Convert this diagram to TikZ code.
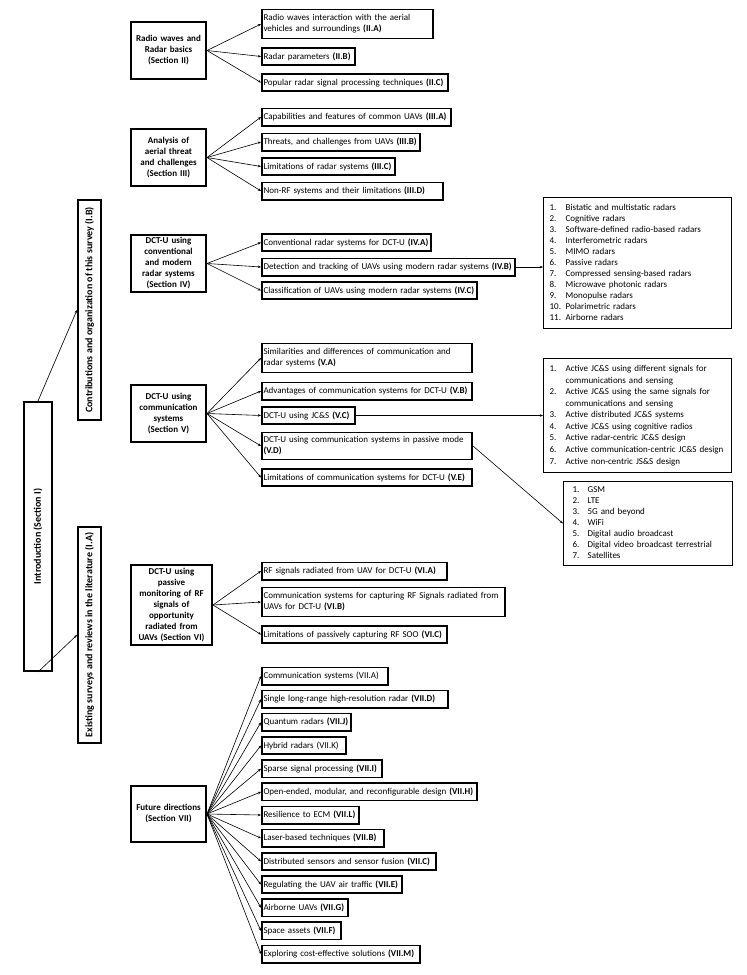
\documentclass[tikz,border=0pt]{standalone}
\usepackage{fontspec}
\setmainfont{Carlito}
\usetikzlibrary{arrows.meta,calc}
\begin{document}
\begin{tikzpicture}[x=1pt,y=-1pt,
  every node/.style={font=\fontsize{9}{11}\selectfont},
  rbox/.style={draw, line width=1.6pt, anchor=west, align=left, inner xsep=1.7pt, inner ysep=1pt, minimum height=17.4pt},
  rb/.style={rbox, /utils/exec={\pgfmathsetmacro\rbw{#1-5}}, text width=\rbw pt},
  rbb/.style={rb=#1, minimum height=29pt},
  secbox/.style={draw, line width=1.6pt, align=center, font=\fontsize{9}{11}\selectfont\bfseries, minimum width=75.4pt, minimum height=57.4pt, text width=72pt, inner sep=1pt},
  sidebox/.style={draw, line width=1.6pt, rotate=90, font=\fontsize{10}{12}\selectfont\bfseries, inner xsep=1pt, minimum height=23.4pt},
  lbox/.style={draw, line width=1.3pt, anchor=north west, align=left},
  conn/.style={line width=0.6pt, -{Stealth[length=3.2pt,width=2.6pt]}},
  ]
\useasboundingbox (0,0) rectangle (747,975);

% left column
\node[sidebox, minimum width=269.4pt, minimum height=28.4pt] (intro) at (38,536.5) {Introduction (Section I)};
\node[sidebox, minimum width=220.4pt] (contrib) at (89.5,310) {Contributions and organization of this survey (I.B)};
\node[sidebox, minimum width=216.4pt] (exist) at (89.5,635) {Existing surveys and reviews in the literature (I.A)};
\draw[conn] (intro.east) -- (contrib.north);
\draw[conn] (intro.west) -- (exist.north);

% section boxes
\node[secbox] (s2) at (168.5,50.5) {Radio waves and\\Radar basics\\(Section II)};
\node[secbox] (s3) at (168.5,157.5) {Analysis of\\aerial threat\\and challenges\\(Section III)};
\node[secbox] (s4) at (168.5,263.5) {DCT-U using\\conventional\\and modern\\radar systems\\(Section IV)};
\node[secbox] (s5) at (168.5,413.5) {DCT-U using\\communication\\systems\\(Section V)};
\node[secbox, minimum width=81.4pt, text width=79pt, minimum height=80.4pt] (s6) at (171.5,605) {DCT-U using\\passive\\monitoring of RF\\signals of\\opportunity\\radiated from\\UAVs (Section VI)};
\node[secbox, minimum height=56.4pt] (s7) at (168.5,814) {Future directions\\(Section VII)};

% Section II
\node[rbb=173] (iia) at (261,24) {Radio waves interaction with the aerial\\vehicles and surroundings \textbf{(II.A)}};
\node[rb=95] (iib) at (261,56.5) {Radar parameters \textbf{(II.B)}};
\node[rb=188] (iic) at (261,82.5) {Popular radar signal processing techniques \textbf{(II.C)}};
% Section III
\node[rb=191] (iiia) at (261,117) {Capabilities and features of common UAVs \textbf{(III.A)}};
\node[rb=160] (iiib) at (261,142) {Threats, and challenges from UAVs \textbf{(III.B)}};
\node[rb=135] (iiic) at (261,166.5) {Limitations of radar systems \textbf{(III.C)}};
\node[rb=183] (iiid) at (261,191) {Non-RF systems and their limitations \textbf{(III.D)}};
% Section IV
\node[rb=171] (iva) at (261,242.5) {Conventional radar systems for DCT-U \textbf{(IV.A)}};
\node[rb=255] (ivb) at (261,267) {Detection and tracking of UAVs using modern radar systems \textbf{(IV.B)}};
\node[rb=217] (ivc) at (261,290.5) {Classification of UAVs using modern radar systems \textbf{(IV.C)}};
% Section V
\node[rbb=212] (va) at (261,358) {Similarities and differences of communication and\\radar systems \textbf{(V.A)}};
\node[rb=212] (vb) at (261,391) {Advantages of communication systems for DCT-U \textbf{(V.B)}};
\node[rb=95] (vc) at (261,415.5) {DCT-U using JC\&S \textbf{(V.C)}};
\node[rbb=212, minimum height=27pt] (vd) at (261,446) {DCT-U using communication systems in passive mode\\\textbf{(V.D)}};
\node[rb=212] (ve) at (261,477.5) {Limitations of communication systems for DCT-U \textbf{(V.E)}};
% Section VI
\node[rb=187] (via) at (261,571) {RF signals radiated from UAV for DCT-U \textbf{(VI.A)}};
\node[rbb=245] (vib) at (261,602) {Communication systems for capturing RF Signals radiated from\\UAVs for DCT-U \textbf{(VI.B)}};
\node[rb=187] (vic) at (261,634.5) {Limitations of passively capturing RF SOO \textbf{(VI.C)}};
% Section VII
\node[rb=128] (viia) at (261,676) {Communication systems (VII.A)};
\node[rb=188] (viid) at (261,699.2) {Single long-range high-resolution radar \textbf{(VII.D)}};
\node[rb=91]  (viij) at (261,722.3) {Quantum radars \textbf{(VII.J)}};
\node[rb=86]  (viik) at (261,745.5) {Hybrid radars (VII.K)};
\node[rb=122] (viii) at (261,768.7) {Sparse signal processing \textbf{(VII.I)}};
\node[rb=217] (viih) at (261,791.9) {Open-ended, modular, and reconfigurable design \textbf{(VII.H)}};
\node[rb=99]  (viil) at (261,815.0) {Resilience to ECM \textbf{(VII.L)}};
\node[rb=124] (viib) at (261,838.2) {Laser-based techniques \textbf{(VII.B)}};
\node[rb=176] (viic) at (261,861.4) {Distributed sensors and sensor fusion \textbf{(VII.C)}};
\node[rb=142] (viie) at (261,884.5) {Regulating the UAV air traffic \textbf{(VII.E)}};
\node[rb=88]  (viig) at (261,907.7) {Airborne UAVs \textbf{(VII.G)}};
\node[rb=81]  (viif) at (261,930.9) {Space assets \textbf{(VII.F)}};
\node[rb=160] (viim) at (261,954.0) {Exploring cost-effective solutions \textbf{(VII.M)}};

% lists
\node[lbox, inner xsep=6pt, text width=175.7pt, minimum height=130.7pt] (l1) at (543,197) {%
\begin{tabular}{@{}p{16pt}@{}l@{}}
1. & Bistatic and multistatic radars\\
2. & Cognitive radars\\
3. & Software-defined radio-based radars\\
4. & Interferometric radars\\
5. & MIMO radars\\
6. & Passive radars\\
7. & Compressed sensing-based radars\\
8. & Microwave photonic radars\\
9. & Monopulse radars\\
10. & Polarimetric radars\\
11. & Airborne radars
\end{tabular}};
\node[lbox, inner xsep=6pt, text width=175.7pt, minimum height=113.7pt] (l2) at (543,358) {%
\renewcommand{\arraystretch}{1.05}%
\begin{tabular}{@{}p{16pt}@{}l@{}}
1. & Active JC\&S using different signals for\\
 & communications and sensing\\
2. & Active JC\&S using the same signals for\\
 & communications and sensing\\
3. & Active distributed JC\&S systems\\
4. & Active JC\&S using cognitive radios\\
5. & Active radar-centric JC\&S design\\
6. & Active communication-centric JC\&S design\\
7. & Active non-centric JS\&S design
\end{tabular}};
\node[lbox, inner xsep=9pt, text width=150.7pt, minimum height=82.7pt] (l3) at (563,481) {%
\begin{tabular}{@{}p{15pt}@{}l@{}}
1. & GSM\\
2. & LTE\\
3. & 5G and beyond\\
4. & WiFi\\
5. & Digital audio broadcast\\
6. & Digital video broadcast terrestrial\\
7. & Satellites
\end{tabular}};

% connectors
\foreach \t in {iia,iib,iic} \draw[conn] (s2.east) -- (\t.west);
\foreach \t in {iiia,iiib,iiic,iiid} \draw[conn] (s3.east) -- (\t.west);
\foreach \t in {iva,ivb,ivc} \draw[conn] (s4.east) -- (\t.west);
\foreach \t in {va,vb,vc,vd,ve} \draw[conn] (s5.east) -- (\t.west);
\foreach \t in {via,vib,vic} \draw[conn] (s6.east) -- (\t.west);
\foreach \t in {viia,viid,viij,viik,viii,viih,viil,viib,viic,viie,viig,viif,viim} \draw[conn] (s7.east) -- (\t.west);
\draw[conn] (ivb.east) -- (ivb.east -| l1.west);
\draw[conn] (vc.east) -- (vc.east -| l2.west);
\draw[conn] (vd.east) -- (l3.west);
\end{tikzpicture}
\end{document}
